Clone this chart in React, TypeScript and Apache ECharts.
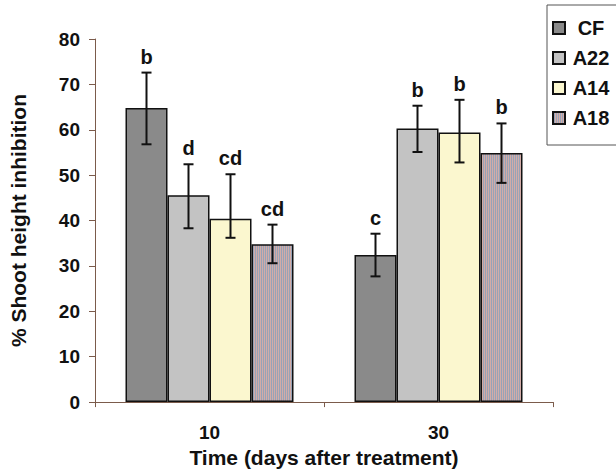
import React, { useEffect, useRef } from "react";
import * as echarts from "echarts";

const categories = ["10", "30"];
const seriesNames = ["CF", "A22", "A14", "A18"];

const cfValues = [64.8, 32.4];
const a22Values = [45.6, 60.3];
const a14Values = [40.4, 59.4];
const a18Values = [34.8, 54.9];

const cfLow = [56.8, 27.7];
const cfHigh = [72.6, 37.1];
const a22Low = [38.3, 55.1];
const a22High = [52.4, 65.3];
const a14Low = [36.2, 52.8];
const a14High = [50.2, 66.6];
const a18Low = [30.6, 48.3];
const a18High = [39.1, 61.4];

const cfLetters = ["b", "c"];
const a22Letters = ["d", "b"];
const a14Letters = ["cd", "b"];
const a18Letters = ["cd", "b"];

const yTicks = [0, 10, 20, 30, 40, 50, 60, 70, 80];

const FONT = "'Liberation Sans', Arial, Helvetica, sans-serif";
const BAR_W = 42;

function stripePattern(c1: string, c2: string) {
  const cv = document.createElement("canvas");
  cv.width = 2;
  cv.height = 2;
  const ctx = cv.getContext("2d");
  if (ctx) {
    ctx.fillStyle = c1;
    ctx.fillRect(0, 0, 1, 2);
    ctx.fillStyle = c2;
    ctx.fillRect(1, 0, 1, 2);
  }
  return { image: cv.toDataURL(), repeat: "repeat" };
}

export default function App() {
  const ref = useRef<HTMLDivElement>(null);

  useEffect(() => {
    if (!ref.current) return;
    document.body.style.margin = "0";
    const chart = echarts.init(ref.current, undefined, { renderer: "svg" });

    const values = [cfValues, a22Values, a14Values, a18Values];
    const lows = [cfLow, a22Low, a14Low, a18Low];
    const highs = [cfHigh, a22High, a14High, a18High];
    const letters = [cfLetters, a22Letters, a14Letters, a18Letters];
    const colors: any[] = [
      "#8a8a8a",
      "#c3c3c3",
      "#fbf7cf",
      stripePattern("#d2aca8", "#97a3b7"),
    ];

    const barSeries = seriesNames.map((name, i) => ({
      name,
      type: "bar",
      data: values[i],
      barWidth: BAR_W,
      barGap: "0%",
      itemStyle: {
        color: colors[i],
        borderColor: "#111",
        borderWidth: 1.5,
      },
      z: 2,
    }));

    const errSeries = seriesNames.map((name, i) => ({
      name: name + "_err",
      type: "custom",
      z: 5,
      silent: true,
      data: categories.map((_, ci) => [ci, lows[i][ci], highs[i][ci]]),
      encode: { x: 0, y: [1, 2] },
      renderItem: (params: any, api: any) => {
        const ci = api.value(0);
        const lo = api.coord([ci, api.value(1)]);
        const hi = api.coord([ci, api.value(2)]);
        const x = lo[0] + (i - 1.5) * BAR_W;
        const cap = 5;
        const letter = letters[i][params.dataIndex];
        return {
          type: "group",
          children: [
            {
              type: "line",
              shape: { x1: x, y1: lo[1], x2: x, y2: hi[1] },
              style: { stroke: "#111", lineWidth: 2 },
            },
            {
              type: "line",
              shape: { x1: x - cap, y1: hi[1], x2: x + cap, y2: hi[1] },
              style: { stroke: "#111", lineWidth: 2 },
            },
            {
              type: "line",
              shape: { x1: x - cap, y1: lo[1], x2: x + cap, y2: lo[1] },
              style: { stroke: "#111", lineWidth: 2 },
            },
            {
              type: "text",
              x: x,
              y: hi[1] - 6,
              style: {
                text: letter,
                fill: "#111",
                font: `bold 20px ${FONT}`,
                textAlign: "center",
                textVerticalAlign: "bottom",
              },
            },
          ],
        };
      },
    }));

    chart.setOption({
      animation: false,
      backgroundColor: "#fff",
      grid: { left: 95, right: 63, top: 39, bottom: 66 },
      legend: {
        data: seriesNames,
        orient: "vertical",
        left: 552,
        top: 18,
        itemWidth: 12,
        itemHeight: 12,
        itemGap: 10,
        icon: "rect",
        formatter: (n: string) => `{a|${n}}`,
        textStyle: {
          fontFamily: FONT,
          fontWeight: "bold",
          fontSize: 20,
          color: "#111",
          rich: {
            a: {
              fontFamily: FONT,
              fontWeight: "bold",
              fontSize: 20,
              color: "#111",
              width: 42,
              align: "center",
            },
          },
        },
        padding: 0,
      },
      graphic: [
        {
          type: "rect",
          shape: { x: 547, y: 5, width: 120, height: 140 },
          style: { fill: "none", stroke: "#555", lineWidth: 1 },
          z: 10,
        },
      ],
      xAxis: {
        type: "category",
        data: categories,
        name: "Time (days after treatment)",
        nameLocation: "middle",
        nameGap: 44,
        nameTextStyle: { fontFamily: FONT, fontWeight: "bold", fontSize: 21, color: "#111" },
        axisLine: { lineStyle: { color: "#7b5b4b", width: 1 } },
        axisTick: { show: true, length: 5, lineStyle: { color: "#7b5b4b" } },
        axisLabel: { fontFamily: FONT, fontWeight: "bold", fontSize: 19, color: "#111", margin: 21 },
        splitLine: { show: false },
      },
      yAxis: {
        type: "value",
        min: yTicks[0],
        max: yTicks[yTicks.length - 1],
        interval: 10,
        name: "% Shoot height inhibition",
        nameLocation: "middle",
        nameGap: 66,
        nameTextStyle: { fontFamily: FONT, fontWeight: "bold", fontSize: 21, color: "#111" },
        axisLine: { show: true, lineStyle: { color: "#7b5b4b", width: 1 } },
        axisTick: { show: true, length: 6, lineStyle: { color: "#7b5b4b" } },
        axisLabel: { fontFamily: FONT, fontWeight: "bold", fontSize: 19, color: "#111", margin: 15 },
        splitLine: { show: false },
      },
      series: [...barSeries, ...errSeries],
    });

    return () => chart.dispose();
  }, []);

  return <div ref={ref} style={{ width: 616, height: 473 }} />;
}
